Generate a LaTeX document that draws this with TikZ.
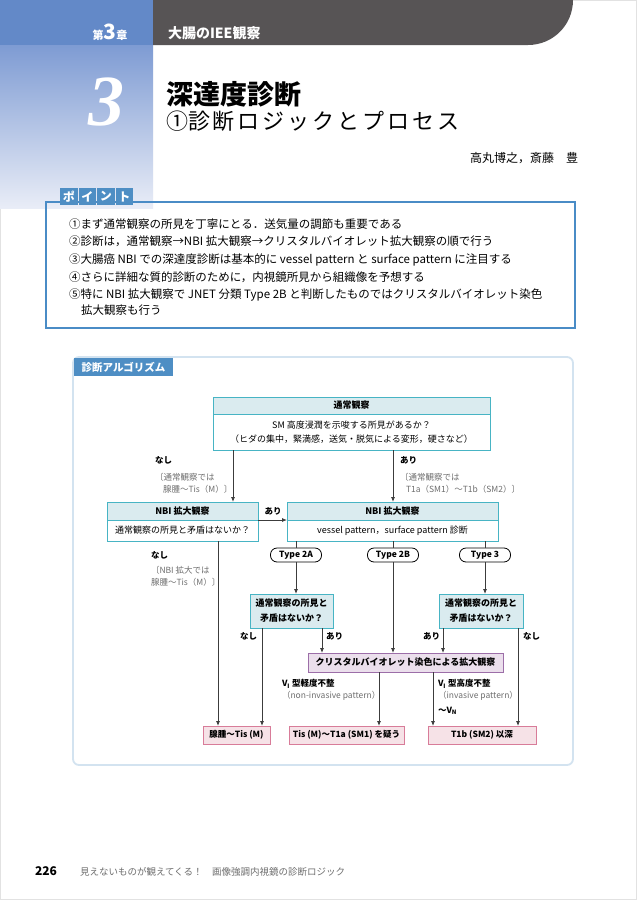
\documentclass[tikz,border=0pt]{standalone}
\usepackage{fontspec}
\setmainfont{Noto Sans CJK JP}
\newfontfamily\numfont{Liberation Serif}
\usetikzlibrary{arrows.meta}
\newcommand{\fsz}[2]{\fontsize{#1}{#2}\selectfont}
\definecolor{hdrgray}{HTML}{575455}
\definecolor{chapblue}{HTML}{6389C8}
\definecolor{gradtop}{HTML}{7E9BD3}
\definecolor{gradbot}{HTML}{E9EDF7}
\definecolor{ptblue}{HTML}{4E8EC4}
\definecolor{ptborder}{HTML}{4A8CC6}
\definecolor{panelbd}{HTML}{D3E3F0}
\definecolor{tealbd}{HTML}{47B4C4}
\definecolor{tealfill}{HTML}{DAEBEF}
\definecolor{cvbd}{HTML}{9C6EA8}
\definecolor{cvfill}{HTML}{EBDFEC}
\definecolor{pkbd}{HTML}{D87C99}
\definecolor{pkfill}{HTML}{F6E2E7}
\definecolor{txtgray}{HTML}{6E6E6E}
\definecolor{arrc}{HTML}{3C3C3C}
\definecolor{pageframe}{HTML}{E2E2E2}
\begin{document}
\begin{tikzpicture}[x=1pt,y=-1pt,
 every node/.style={inner sep=0pt, outer sep=0pt},
 hdrbox/.style={draw=tealbd, fill=tealfill, line width=0.9pt, font=\fsz{9}{11}\bfseries},
 bodybox/.style={draw=tealbd, fill=white, line width=0.9pt, font=\fsz{9}{14}, align=center},
 pillbox/.style={draw=black, fill=white, line width=0.8pt, rounded corners=6.5pt, minimum width=51pt, minimum height=14pt, font=\fsz{8.5}{10}\bfseries},
 qbox/.style={draw=tealbd, fill=tealfill, line width=0.9pt, font=\fsz{9}{15}\bfseries, align=center},
 cvbox/.style={draw=cvbd, fill=cvfill, line width=0.9pt, font=\fsz{9}{11}\bfseries},
 resbox/.style={draw=pkbd, fill=pkfill, line width=0.9pt, minimum height=18pt, font=\fsz{8.5}{10}\bfseries},
 arr/.style={draw=arrc, line width=0.8pt, -{Latex[length=5pt,width=4pt]}},
 conn/.style={draw=arrc, line width=0.8pt},
 yesno/.style={font=\fsz{8.5}{10}\bfseries},
 grnote/.style={font=\fsz{8.5}{10}, text=txtgray, anchor=base west},
 pttext/.style={font=\fsz{11.5}{13}, anchor=base west},
 ptsq/.style={fill=ptblue, text=white, minimum width=17.5pt, minimum height=17pt, font=\fsz{12}{13}\bfseries},
]
\useasboundingbox (0,0) rectangle (637,900);
\fill[white] (0,0) rectangle (637,900);
\draw[pageframe, line width=0.8pt] (0.4,0.4) rectangle (636.6,899.6);

% ---------- header ----------
\fill[chapblue] (0,0) rectangle (153,45);
\shade[top color=gradtop, bottom color=gradbot] (0,45) rectangle (153,208);
\fill[hdrgray] (153,0) -- (573,0) .. controls (573,25) and (553,45) .. (528,45) -- (153,45) -- cycle;
\node[anchor=base, text=white, font=\bfseries] (chap) at (110,39)
  {{\fsz{11}{12}第}{\fsz{21}{22}3}{\fsz{11}{12}章}};
\node[anchor=base west, text=white, font=\fsz{14}{16}\bfseries] (sect) at (168,38) {大腸のIEE観察};
\node[anchor=base, text=white, font=\numfont\bfseries\itshape\fsz{72}{74}] (bignum) at (106,125) {3};
\node[anchor=base west, font=\fsz{27}{30}\bfseries] (title1) at (166,104) {深達度診断};
\node[anchor=base west, font=\fsz{22}{24}] (title2) at (166,129)
  {①\kern0.5pt診\kern2pt断\kern3pt ロ\kern3pt ジ\kern3pt ッ\kern3pt ク\kern3pt と\kern3pt プ\kern3pt ロ\kern3pt セ\kern3pt ス};
\node[anchor=base east, font=\fsz{12}{14}] (author) at (578,162) {高丸博之，斎藤　豊};

% ---------- points ----------
\node[draw=ptborder, line width=1.3pt, minimum width=529pt, minimum height=126pt] (ptbox) at (310.5,265) {};
\node[ptsq] (k1) at (68.75,196.5) {ポ};
\node[ptsq] (k2) at (87.25,196.5) {イ};
\node[ptsq] (k3) at (105.75,196.5) {ン};
\node[ptsq] (k4) at (124.25,196.5) {ト};
\node[pttext] (p1) at (69,228.5) {①まず通常観察の所見を丁寧にとる．送気量の調節も重要である};
\node[pttext] (p2) at (69,245.5) {②診断は，通常観察→NBI 拡大観察→クリスタルバイオレット拡大観察の順で行う};
\node[pttext] (p3) at (69,263) {③大腸癌 NBI での深達度診断は基本的に vessel pattern と surface pattern に注目する};
\node[pttext] (p4) at (69,281) {④さらに詳細な質的診断のために，内視鏡所見から組織像を予想する};
\node[pttext] (p5) at (69,298.5) {⑤特に NBI 拡大観察で JNET 分類 Type 2B と判断したものではクリスタルバイオレット染色};
\node[pttext] (p6) at (81,314.5) {拡大観察も行う};

% ---------- algorithm panel ----------
\draw[panelbd, line width=1.8pt, rounded corners=6pt] (73,357) rectangle (573,765);
\node[fill=ptblue, text=white, minimum width=99pt, minimum height=18pt, font=\fsz{10.5}{12}\bfseries] (algo) at (123.5,367) {診断アルゴリズム};

% column coordinates
\coordinate (xA) at (233,0);
\coordinate (xB) at (393,0);
\coordinate (xC) at (218,0);
\coordinate (xD) at (262,0);
\coordinate (xE) at (322,0);
\coordinate (xF) at (443,0);
\coordinate (xG) at (518,0);
\coordinate (xH) at (379,0);
\coordinate (xI) at (433,0);
\coordinate (xP) at (296,0);
\coordinate (xQ) at (485,0);

% boxes
\node[hdrbox, minimum width=277pt, minimum height=17pt] (obsH) at (351.5,405.5) {通常観察};
\node[bodybox, minimum width=277pt, minimum height=36pt] (obsB) at (351.5,432)
  {SM 高度浸潤を示唆する所見があるか？\\（ヒダの集中，緊満感，送気・脱気による変形，硬さなど）};
\node[hdrbox, minimum width=151pt, minimum height=18pt] (nbiLH) at (182.5,511) {NBI 拡大観察};
\node[bodybox, minimum width=151pt, minimum height=21pt] (nbiLB) at (182.5,530.5) {通常観察の所見と矛盾はないか？};
\node[hdrbox, minimum width=211pt, minimum height=18pt] (nbiRH) at (392.5,511) {NBI 拡大観察};
\node[bodybox, minimum width=211pt, minimum height=21pt] (nbiRB) at (392.5,530.5) {vessel pattern，surface pattern 診断};
\node[pillbox] (p2A) at (296,555) {Type 2A};
\node[pillbox] (p2B) at (393,555) {Type 2B};
\node[pillbox] (p3t) at (485,555) {Type 3};
\node[qbox, minimum width=83pt, minimum height=34pt] (q2A) at (291.5,611) {通常観察の所見と\\矛盾はないか？};
\node[qbox, minimum width=84pt, minimum height=34pt] (q3) at (481,611) {通常観察の所見と\\矛盾はないか？};
\node[cvbox, minimum width=195pt, minimum height=19pt] (cv) at (405.5,662.5) {クリスタルバイオレット染色による拡大観察};
\node[resbox, minimum width=67pt] (r1) at (236.5,735) {腺腫〜Tis (M)};
\node[resbox, minimum width=115pt] (r2) at (346.5,735) {Tis (M)〜T1a (SM1) を疑う};
\node[resbox, minimum width=108pt] (r3) at (482,735) {T1b (SM2) 以深};

% connectors
\draw[arr] (obsB.south -| xA) -- (nbiLH.north -| xA);
\draw[arr] (obsB.south -| xB) -- (nbiRH.north -| xB);
\draw[arr] (nbiLH.south east) -- (nbiRH.south west);
\draw[conn] (nbiRB.south -| xP) -- (p2A.north);
\draw[arr] (p2A.south) -- (q2A.north -| xP);
\draw[conn] (nbiRB.south -| xB) -- (p2B.north);
\draw[arr] (p2B.south) -- (cv.north -| xB);
\draw[conn] (nbiRB.south -| xQ) -- (p3t.north);
\draw[arr] (p3t.south) -- (q3.north -| xQ);
\draw[arr] (nbiLB.south -| xC) -- (r1.north -| xC);
\draw[arr] (q2A.south -| xD) -- (r1.north -| xD);
\draw[arr] (q2A.south -| xE) -- (cv.north -| xE);
\draw[arr] (q3.south -| xF) -- (cv.north -| xF);
\draw[arr] (q3.south -| xG) -- (r3.north -| xG);
\draw[arr] (cv.south -| xH) -- (r2.north -| xH);
\draw[arr] (cv.south -| xI) -- (r3.north -| xI);

% labels
\node[yesno, anchor=base west] (l1) at (155,463.5) {なし};
\node[grnote] (l2) at (155,480) {〔通常観察では};
\node[grnote] (l3) at (163,492) {腺腫〜Tis（M）〕};
\node[yesno, anchor=base west] (l4) at (400,463.5) {あり};
\node[grnote] (l5) at (400,480) {〔通常観察では};
\node[grnote] (l6) at (406,492) {T1a（SM1）〜T1b（SM2）〕};
\node[yesno, anchor=base] (l7) at (273,514) {あり};
\node[yesno, anchor=base west] (l8) at (151,558) {なし};
\node[grnote] (l9) at (151,573.5) {〔NBI 拡大では};
\node[grnote] (l10) at (151,585) {腺腫〜Tis（M）〕};
\node[yesno, anchor=base east] (l11) at (257,639) {なし};
\node[yesno, anchor=base west] (l12) at (326,639) {あり};
\node[yesno, anchor=base east] (l13) at (440,639) {あり};
\node[yesno, anchor=base west] (l14) at (523,639) {なし};
\node[yesno, anchor=base west] (l15) at (282,686.5) {V\textsubscript{\fsz{6}{6}I} 型軽度不整};
\node[grnote] (l16) at (282,698) {（non-invasive pattern）};
\node[yesno, anchor=base west] (l17) at (438,686.5) {V\textsubscript{\fsz{6}{6}I} 型高度不整};
\node[grnote] (l18) at (438,698.5) {（invasive pattern）};
\node[yesno, anchor=base west] (l19) at (438,713) {〜V\textsubscript{\fsz{6}{6}N}};

% footer
\node[anchor=base west, font=\fsz{12}{14}\bfseries] (pg) at (35,875) {226};
\node[anchor=base west, font=\fsz{9.5}{11}, text=txtgray] (ft) at (80,875) {見えないものが観えてくる！　画像強調内視鏡の診断ロジック};
\end{tikzpicture}
\end{document}
